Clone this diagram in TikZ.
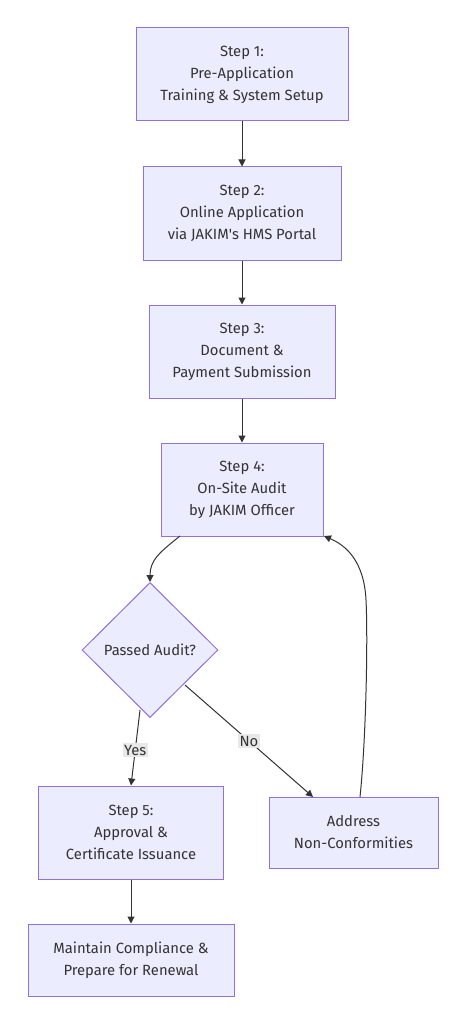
\documentclass[tikz,border=0pt]{standalone}
\usepackage{fontspec}
\setmainfont{Fira Sans}
\usetikzlibrary{shapes.geometric,arrows.meta}
\definecolor{nodefill}{HTML}{ECECFF}
\definecolor{nodeline}{HTML}{9370DB}
\definecolor{edge}{HTML}{333333}
\definecolor{lblbg}{HTML}{E8E8E8}
\begin{document}
\begin{tikzpicture}[x=1pt,y=-1pt,
  box/.style={draw=nodeline,fill=nodefill,line width=1pt,align=center,font=\fontsize{14.8}{22}\selectfont,text=edge,inner sep=0pt},
  flow/.style={draw=edge,line width=1pt,-{Triangle[length=7pt,width=7pt]}},
  lbl/.style={fill=lblbg,font=\fontsize{14.8}{16}\selectfont,text=edge,inner sep=1.5pt}]
\useasboundingbox (0,0) rectangle (466,1024);
\node[box,minimum width=212pt,minimum height=93pt] (s1) at (242,74.5) {Step 1:\\Pre-Application\\Training \& System Setup};
\node[box,minimum width=198pt,minimum height=93pt] (s2) at (242,213.5) {Step 2:\\Online Application\\via JAKIM\textquotesingle s HMS Portal};
\node[box,minimum width=186pt,minimum height=93pt] (s3) at (242,351.5) {Step 3:\\Document \&\\Payment Submission};
\node[box,minimum width=162pt,minimum height=93pt] (s4) at (242,489.5) {Step 4:\\On-Site Audit\\by JAKIM Officer};
\node[box,diamond,aspect=1,minimum width=136pt,minimum height=135pt] (d) at (150,650) {Passed Audit?};
\node[box,minimum width=185pt,minimum height=93pt] (s5) at (131,832.5) {Step 5:\\Approval \&\\Certificate Issuance};
\node[box,minimum width=169pt,minimum height=71pt] (nc) at (353.5,832.5) {Address\\Non-Conformities};
\node[box,minimum width=206pt,minimum height=72pt] (m) at (131,960) {Maintain Compliance \&\\Prepare for Renewal};
\draw[flow] (s1) -- (s2);
\draw[flow] (s2) -- (s3);
\draw[flow] (s3) -- (s4);
\coordinate (s4out) at (180,536);
\draw[flow] (s4out) .. controls (160,552) and (150,560) .. (d.north);
\coordinate (dy) at (140,710);
\draw[flow] (dy) -- node[lbl,pos=0.53]{Yes} (s5.north);
\coordinate (dn) at (185,685);
\coordinate (ncin) at (313,797);
\draw[flow] (dn) -- node[lbl,pos=0.5]{No} (ncin);
\coordinate (ncout) at (360,797);
\coordinate (s4in) at (324,536);
\draw[flow] (ncout) .. controls (366,740) and (368,640) .. (366,600) .. controls (364,560) and (345,545) .. (s4in);
\draw[flow] (s5) -- (m);
\end{tikzpicture}
\end{document}
